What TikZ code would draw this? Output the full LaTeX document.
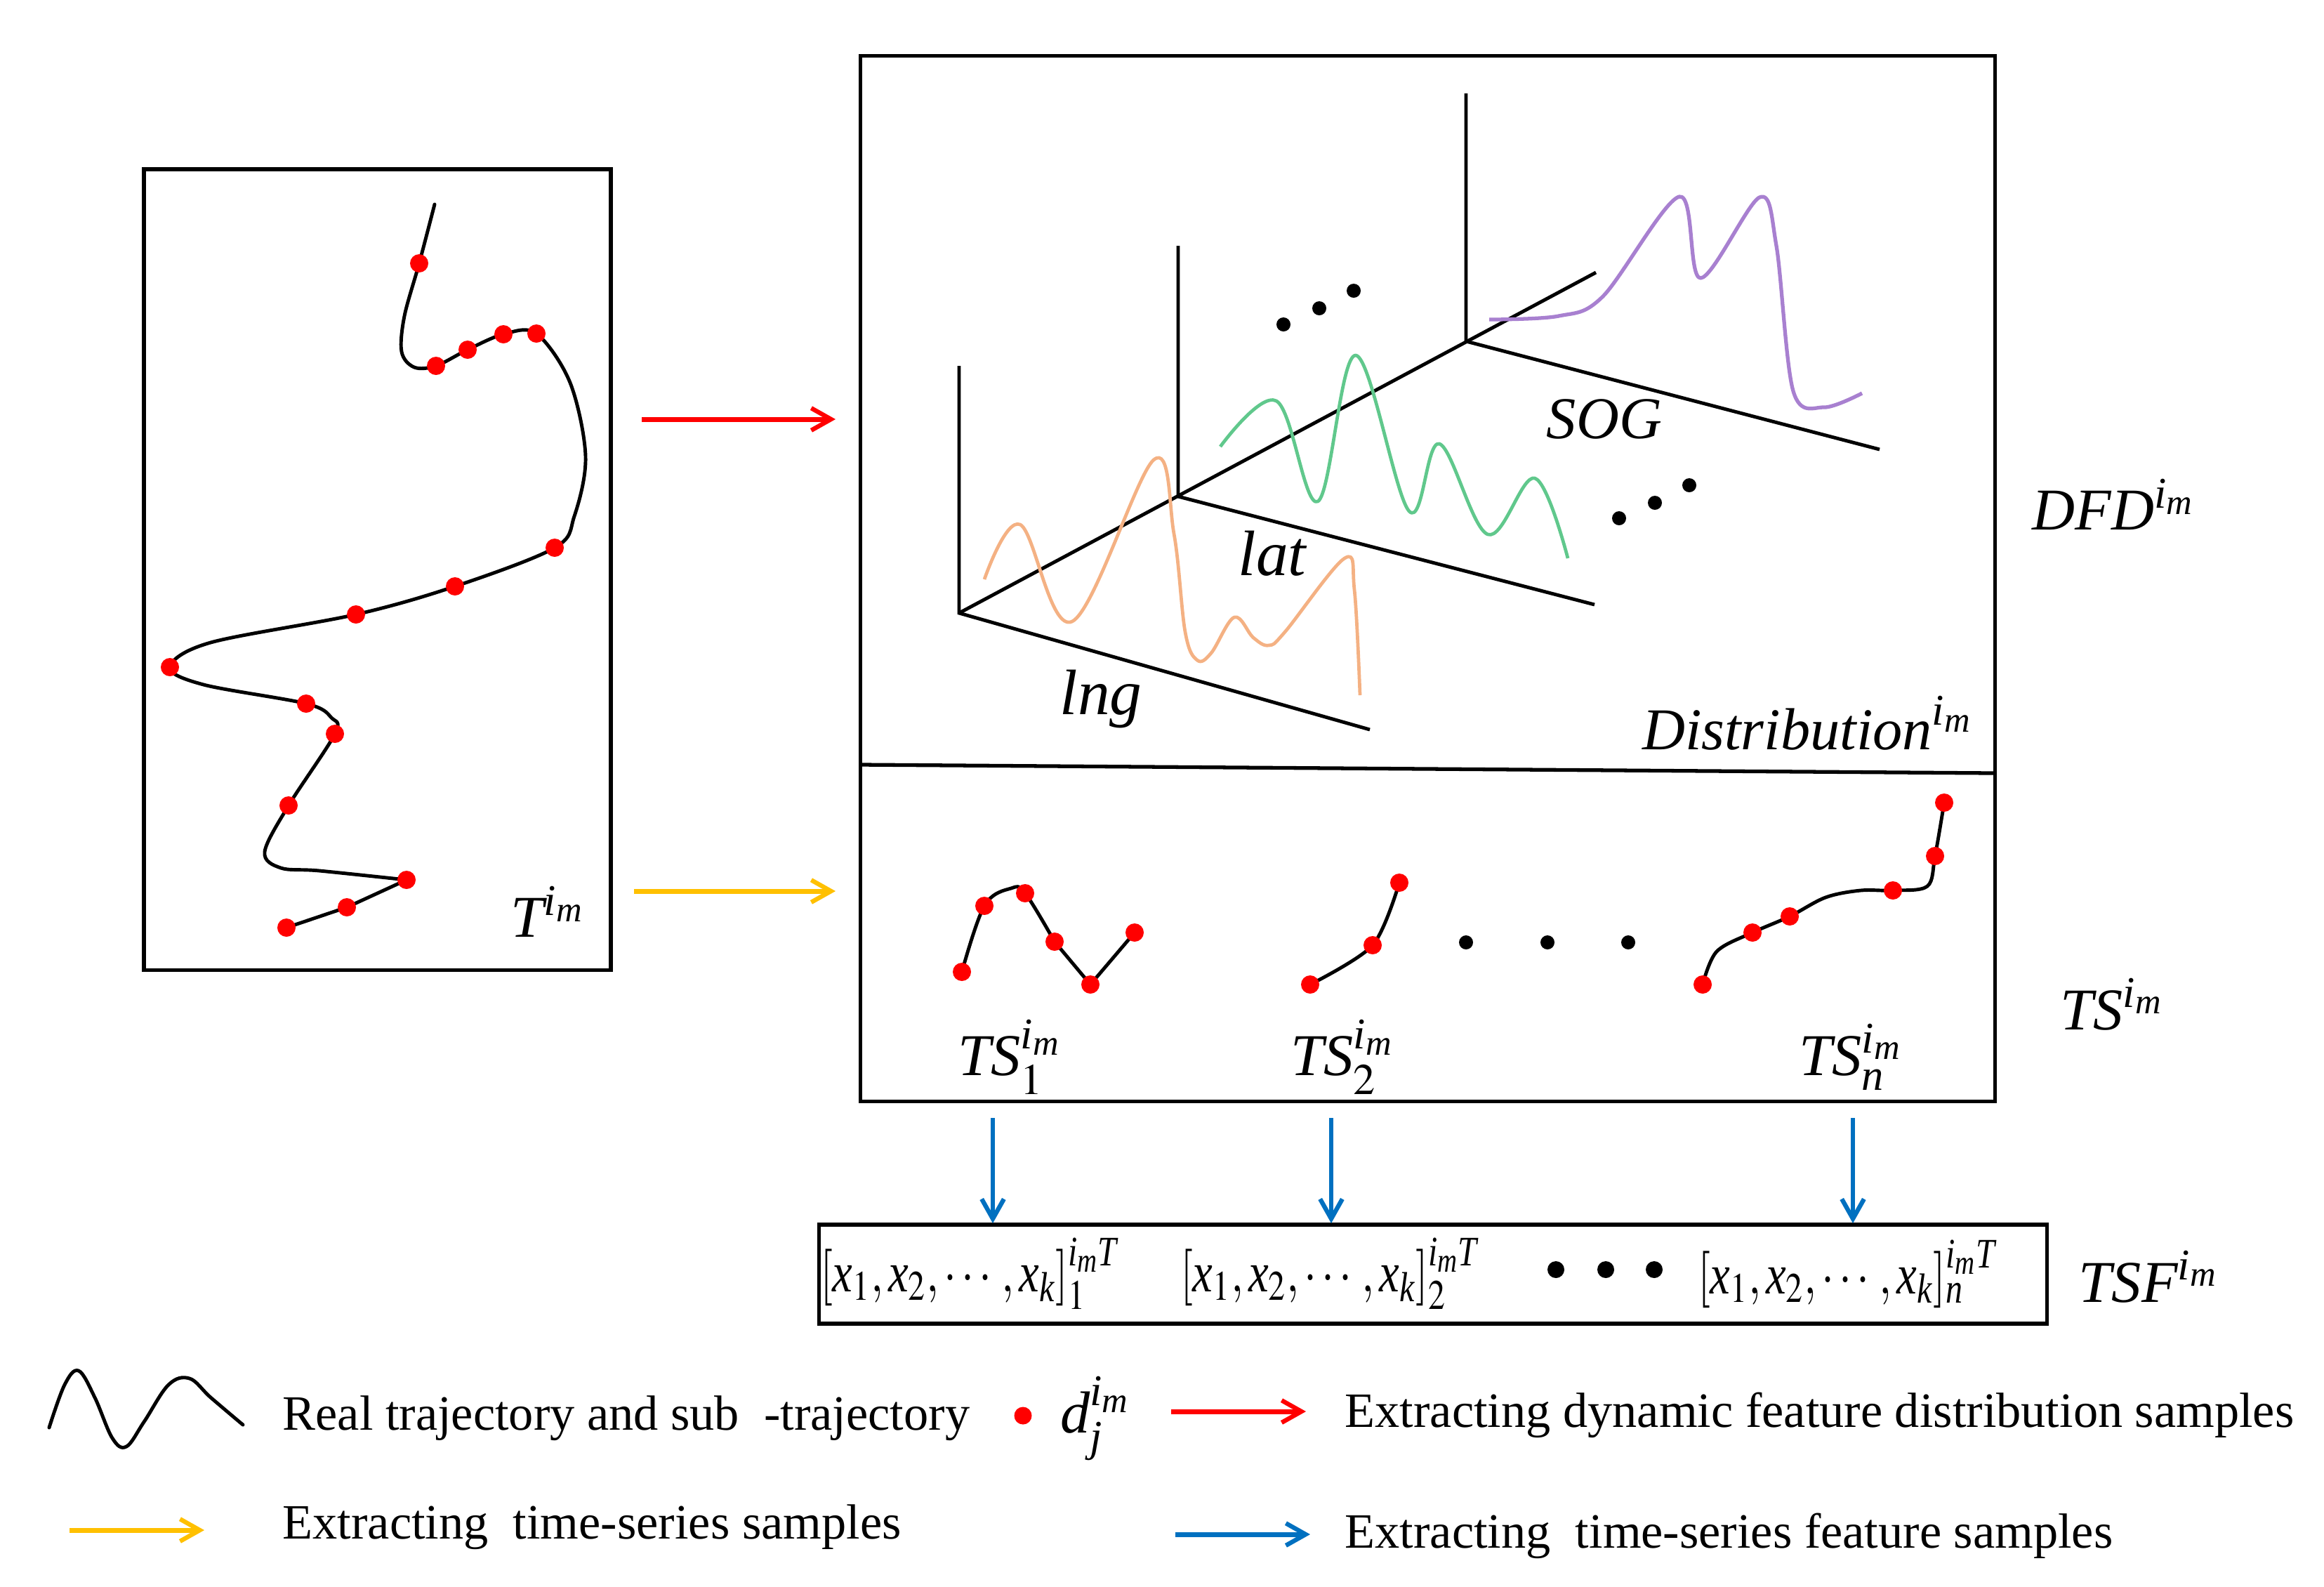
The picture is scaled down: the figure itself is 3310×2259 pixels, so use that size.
\documentclass[tikz,border=0pt]{standalone}
\usepackage{amsmath}
\usepackage{mathptmx}
\usepackage[no-math]{fontspec}
\setmainfont{Liberation Serif}
\usetikzlibrary{arrows.meta}

\definecolor{myorange}{RGB}{244,177,131}
\definecolor{mygreen}{RGB}{96,200,140}
\definecolor{mypurple}{RGB}{168,128,208}
\definecolor{myyellow}{RGB}{255,192,0}
\definecolor{myblue}{RGB}{0,112,192}

\newcommand{\vi}[1]{\textit{#1}}
\newcommand{\imm}{\vi{i}_{\vi{m}}}

\begin{document}
\begin{tikzpicture}[x=0.01cm,y=-0.01cm,
  frame/.style={draw=black,line width=1.6pt},
  axisline/.style={line width=1.4pt,black},
  traj/.style={line width=1.4pt,black,line join=round,line cap=round},
  distcurve/.style={line width=1.35pt,line join=round},
  reddot/.style={circle,fill=red,draw=none,inner sep=0pt,minimum size=0.26cm},
  blackdot/.style={circle,fill=black,draw=none,inner sep=0pt,minimum size=0.2cm},
  mlab/.style={font=\fontsize{24}{28}\selectfont,inner sep=0pt},
  leg/.style={font=\fontsize{20}{24}\selectfont,anchor=west,inner sep=0pt},
  arr/.style={-{Straight Barb[length=8pt,width=9pt,line width=1.8pt]},line width=2pt}
]
\useasboundingbox (0,0) rectangle (3310,2259);

% ---------- left box: trajectory ----------
\node[frame,minimum width=6.65cm,minimum height=11.4cm,inner sep=0pt] (tbox) at (537.5,811) {};
\draw[traj] plot[smooth,tension=0.55] coordinates {
  (619,291) (597,375) (576,450) (572,501) (590,523) (621,521) (666,498) (717,476) (764,475)
  (812,545) (834,650) (818,735) (790,780) (648,835) (507,875) (300,915) (242,950) (290,975)
  (436,1002) (472,1022) (477,1045) (411,1147) (377,1213) (400,1236) (455,1240) (579,1253)};
\draw[traj] (579,1253) -- (494,1292) -- (408,1321);
\foreach \p [count=\i] in {(597,375),(621,521),(666,498),(717,476),(764,475),(790,780),(648,835),(507,875),(242,950),(436,1002),(477,1045),(411,1147),(579,1253),(494,1292),(408,1321)}
  \node[reddot] (td\i) at \p {};
\node[mlab] (tlab) at (780,1298) {$\vi{T}^{\imm}$};

% ---------- main box ----------
\node[frame,minimum width=16.15cm,minimum height=14.88cm,inner sep=0pt] (mbox) at (2033.5,824) {};
\coordinate (divl) at (1227,1089);
\coordinate (divr) at (2841,1101);
\draw[line width=1.5pt] (divl) -- (divr);

% axes
\coordinate (o1) at (1366,873);
\coordinate (o2) at (1678,707);
\coordinate (o3) at (2088,486);
\coordinate (v1) at (1366,521);
\coordinate (v2) at (1678,350);
\coordinate (v3) at (2088,133);
\coordinate (e1) at (1951,1039);
\coordinate (e2) at (2271,861);
\coordinate (e3) at (2677,640);
\coordinate (dg) at (2273,388);
\draw[axisline] (v1) -- (o1) -- (e1);
\draw[axisline] (v2) -- (o2) -- (e2);
\draw[axisline] (v3) -- (o3) -- (e3);
\draw[axisline] (o1) -- (dg);

% distribution curves
\draw[distcurve,myorange] plot[smooth,tension=0.6] coordinates {
  (1402,825) (1453,747) (1527,885) (1643,655) (1672,760) (1688,900) (1705,940) (1725,930) (1758,879) (1785,908) (1807,919) (1830,900) (1915,795) (1929,840) (1937,990)};
\draw[distcurve,mygreen] plot[smooth,tension=0.6] coordinates {
  (1738,636) (1818,571) (1877,714) (1931,506) (2007,728) (2050,632) (2119,761) (2186,681) (2233,795)};
\draw[distcurve,mypurple,line width=1.5pt] plot[smooth,tension=0.55] coordinates {
  (2121,455) (2220,450) (2283,422) (2392,280) (2422,396) (2506,281) (2530,350) (2554,557) (2598,580) (2652,560)};

\foreach \p [count=\i] in {(1828,462),(1879,439),(1928,414),(2306,738),(2357,716),(2406,691)}
  \node[blackdot] (dd\i) at \p {};

\node[mlab,font=\fontsize{26}{30}\selectfont] (lnglab) at (1568,995) {$\vi{lng}$};
\node[mlab,font=\fontsize{26}{30}\selectfont] (latlab) at (1812,788) {$\vi{lat}$};
\node[mlab,font=\fontsize{24}{28}\selectfont] (soglab) at (2285,597) {$\vi{SOG}$};
\node[mlab,anchor=east] (distlab) at (2810,1030) {$\vi{Distribution}^{\imm}$};

% time series
\draw[traj] plot[smooth,tension=0.6] coordinates {(1370,1384) (1402,1290) (1440,1265) (1460,1272) (1502,1341)};
\draw[traj] (1502,1341) -- (1553,1402) -- (1616,1328);
\foreach \p [count=\i] in {(1370,1384),(1402,1290),(1460,1272),(1502,1341),(1553,1402),(1616,1328)}
  \node[reddot] (s1d\i) at \p {};

\draw[traj] plot[smooth,tension=0.5] coordinates {(1866,1402) (1955,1346) (1993,1257)};
\foreach \p [count=\i] in {(1866,1402),(1955,1346),(1993,1257)}
  \node[reddot] (s2d\i) at \p {};

\foreach \p [count=\i] in {(2088,1342),(2204,1342),(2319,1342)}
  \node[blackdot] (sd\i) at \p {};

\draw[traj] plot[smooth,tension=0.55] coordinates {(2425,1402) (2445,1355) (2496,1328) (2549,1305) (2600,1278) (2650,1268) (2696,1268) (2745,1262) (2756,1219) (2769,1143)};
\foreach \p [count=\i] in {(2425,1402),(2496,1328),(2549,1305),(2696,1268),(2756,1219),(2769,1143)}
  \node[reddot] (snd\i) at \p {};

\node[mlab] (ts1) at (1438,1505) {$\vi{TS}_1^{\imm}$};
\node[mlab] (ts2) at (1912,1505) {$\vi{TS}_2^{\imm}$};
\node[mlab] (tsn) at (2636,1505) {$\vi{TS}_{\vi{n}}^{\imm}$};

% ---------- TSF box ----------
\node[frame,minimum width=17.48cm,minimum height=1.41cm,inner sep=0pt] (tsfbox) at (2041,1814.5) {};
\node[mlab,font=\fontsize{23}{27}\selectfont] (vec1) at (1380,1814) {\scalebox{0.8}[1]{$[\vi{x}_1,\vi{x}_2,\cdots,\vi{x}_{\vi{k}}]_1^{\imm \vi{T}}$}};
\node[mlab,font=\fontsize{23}{27}\selectfont] (vec2) at (1893,1814) {\scalebox{0.8}[1]{$[\vi{x}_1,\vi{x}_2,\cdots,\vi{x}_{\vi{k}}]_2^{\imm \vi{T}}$}};
\node[mlab,font=\fontsize{23}{27}\selectfont] (vec3) at (2630,1814) {\scalebox{0.8}[1]{$[\vi{x}_1,\vi{x}_2,\cdots,\vi{x}_{\vi{k}}]_{\vi{n}}^{\imm \vi{T}}$}};
\foreach \p [count=\i] in {(2216,1808),(2287,1808),(2356,1808)}
  \node[blackdot,minimum size=0.24cm] (vd\i) at \p {};

% right labels
\node[mlab] (dfd) at (3010,718) {$\vi{DFD}^{\imm}$};
\node[mlab] (tsall) at (3008,1430) {$\vi{TS}^{\imm}$};
\node[mlab] (tsf) at (3060,1818) {$\vi{TSF}^{\imm}$};

% ---------- connectors ----------
\coordinate (ra1) at (914,597);
\coordinate (ra2) at (1190,597);
\draw[arr,red] (ra1) -- (ra2);
\coordinate (ya1) at (903,1269);
\coordinate (ya2) at (1190,1269);
\draw[arr,myyellow] (ya1) -- (ya2);
\foreach \x [count=\i] in {1414,1896,2639}{
  \coordinate (ba\i) at (\x,1592);
  \coordinate (bb\i) at (\x,1742);
  \draw[arr,myblue,line width=1.7pt] (ba\i) -- (bb\i);
}

% ---------- legend ----------
\draw[traj] plot[smooth,tension=0.6] coordinates {(70,2033) (92,1972) (112,1952) (135,1990) (160,2048) (180,2060) (205,2025) (240,1972) (270,1963) (300,1990) (346,2029)};
\node[leg] (l1) at (402,2020) {Real trajectory and sub\ \ -trajectory};
\node[reddot,minimum size=0.25cm] (ldot) at (1457,2016) {};
\node[mlab] (ldlab) at (1560,2020) {$\vi{d}_{\vi{j}}^{\imm}$};
\coordinate (lr1) at (1668,2010);
\coordinate (lr2) at (1860,2010);
\draw[arr,red] (lr1) -- (lr2);
\node[leg] (l2) at (1915,2015) {Extracting dynamic feature distribution samples};
\coordinate (ly1) at (99,2179);
\coordinate (ly2) at (291,2179);
\draw[arr,myyellow] (ly1) -- (ly2);
\node[leg] (l3) at (402,2175) {Extracting\ \ time-series samples};
\coordinate (lb1) at (1674,2185);
\coordinate (lb2) at (1866,2185);
\draw[arr,myblue] (lb1) -- (lb2);
\node[leg] (l4) at (1915,2187) {Extracting\ \ time-series feature samples};
\end{tikzpicture}
\end{document}
